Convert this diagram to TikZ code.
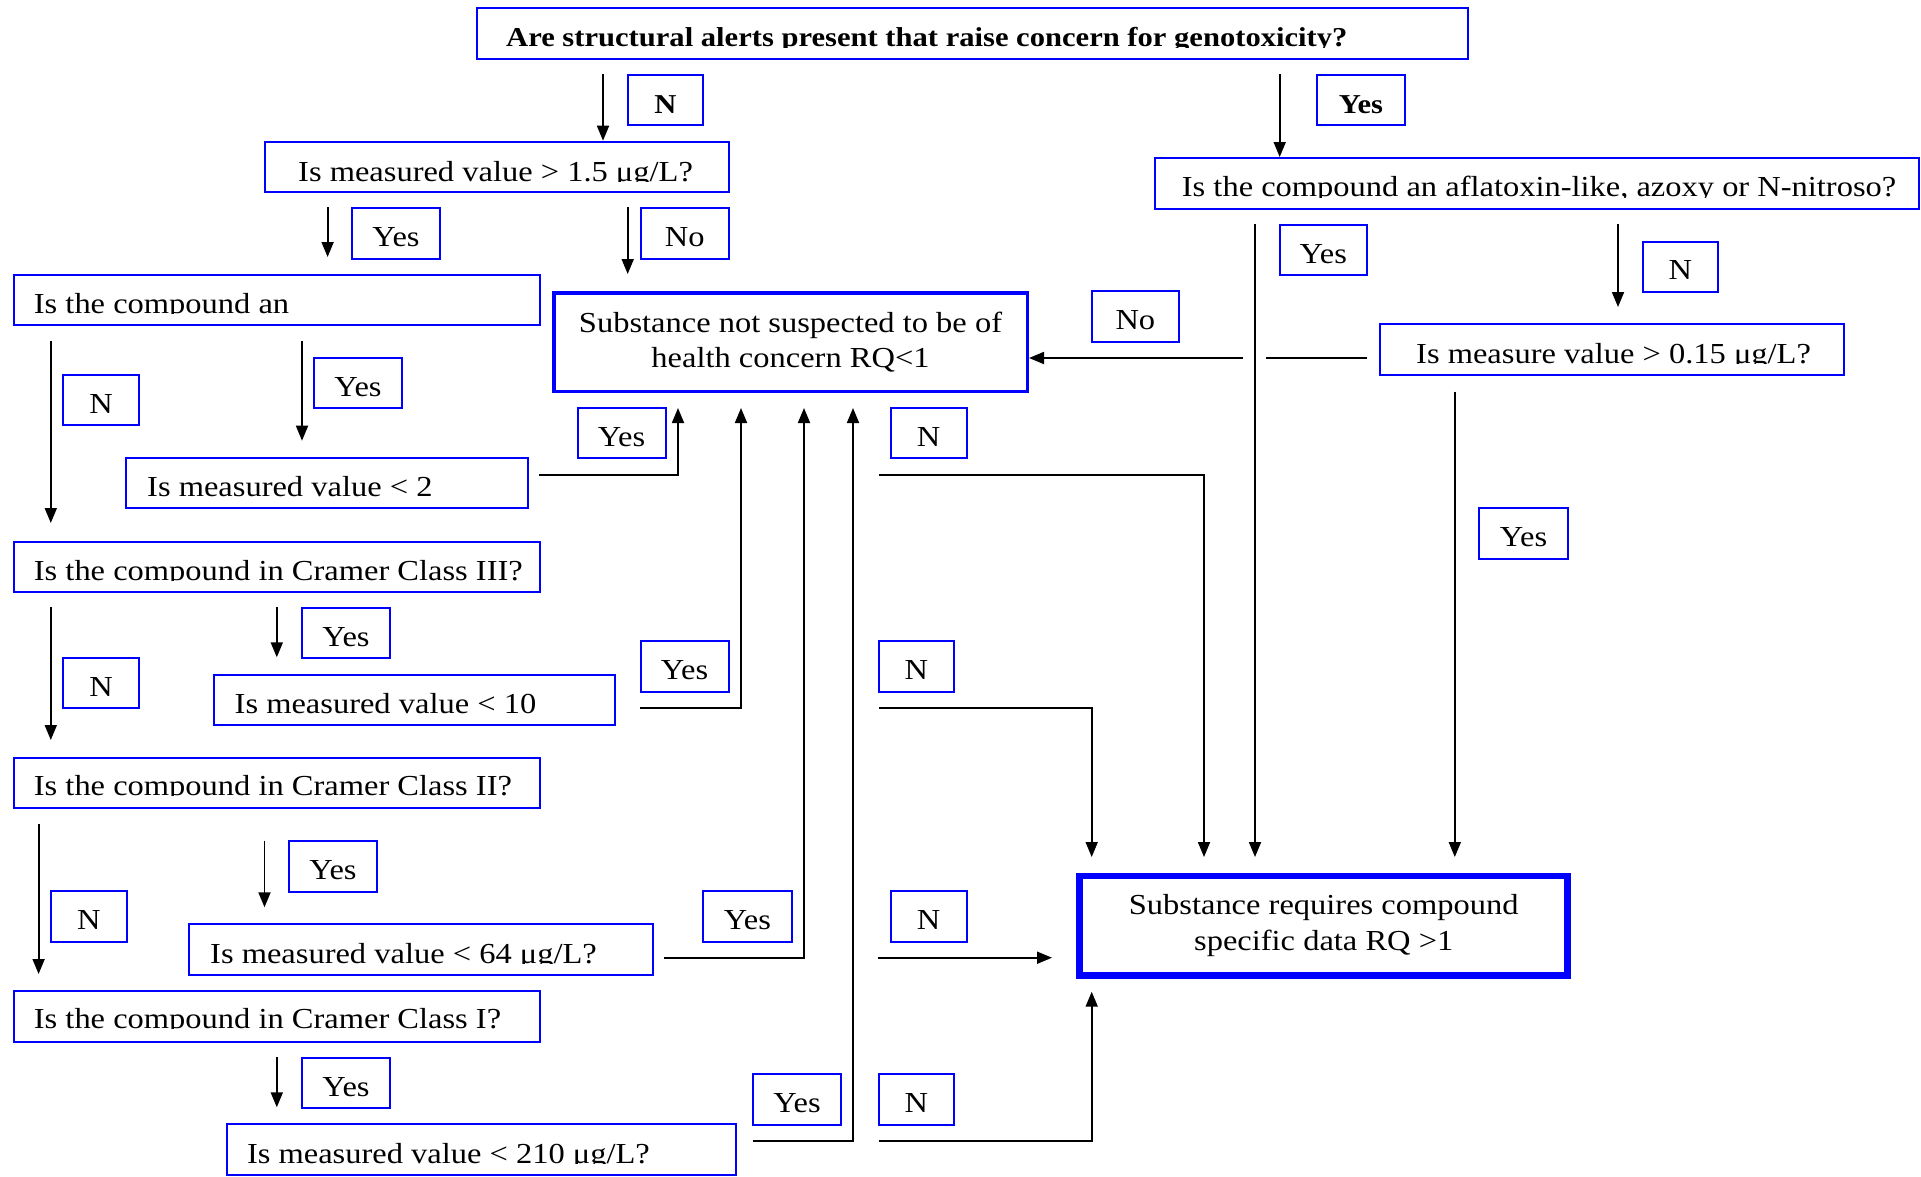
\documentclass[tikz,border=0pt]{standalone}
\usepackage{fontspec}
\setmainfont{Liberation Serif}[FakeStretch=1.12]
\usetikzlibrary{arrows.meta}

\definecolor{boxblue}{RGB}{0,0,255}
\newcommand\askfont{\fontsize{29}{35.5}\selectfont}
\newcommand\headfont{\fontsize{27.3}{33}\selectfont\bfseries}

% question box: name, x1, y1, x2, y2, text x, baseline y, text
% the text is cut at its baseline
\newcommand\askbox[8]{%
  \node[askframe, minimum width={#4-#2}, minimum height={#5-#3}] (#1) at ({(#2+#4)/2},{(#3+#5)/2}) {};
  \begin{scope}
    \clip (#2,#3) rectangle (#4,#7+0.5);
    \node[asktext] (#1-t) at (#6,#7) {#8};
  \end{scope}}

% small answer tag: name, x1, y1, x2, y2, text
\newcommand\tagbox[6]{%
  \node[tagframe, minimum width={#4-#2}, minimum height={#5-#3}] (#1) at ({(#2+#4)/2},{(#3+#5)/2}) {#6};}

\tikzset{
  askframe/.style={draw=boxblue, line width=2pt, inner sep=0pt},
  asktext/.style={anchor=base west, inner sep=0pt, font=\askfont},
  tagframe/.style={draw=boxblue, line width=2pt, inner sep=0pt,
    text height=26pt, text depth=0pt, font=\askfont},
  outcome/.style={draw=boxblue, align=center, inner sep=0pt, font=\askfont},
  conn/.style={line width=1.8pt, draw=black},
  arr/.style={conn, -{Triangle[length=15pt,width=12pt]}},
}

\begin{document}
\begin{tikzpicture}[x=1pt, y=-1pt]
\useasboundingbox (0,0) rectangle (1921,1176);

% --- top question
\node[askframe, minimum width=991, minimum height=51] (top) at (972.5,33.5) {};
\begin{scope}
  \clip (477,8) rectangle (1468,47.2);
  \node[anchor=base west, inner sep=0pt, font=\headfont] (top-t) at (506,46.7)
    {Are structural alerts present that raise concern for genotoxicity?};
\end{scope}

% --- left branch
\askbox{q1}{264.5}{141.7}{729}{192.3}{298}{181}{Is measured value > 1.5 μg/L?}
\askbox{q2}{13.5}{275}{540}{325}{33.7}{313.3}{Is the compound an}
\askbox{q3}{125.5}{457.7}{528}{508.3}{147}{496.7}{Is measured value < 2}
\askbox{q4}{13.5}{541.7}{540}{592.3}{33.7}{580}{Is the compound in Cramer Class III?}
\askbox{q5}{213.7}{675}{615.4}{725}{234.5}{713}{Is measured value < 10}
\askbox{q6}{13.5}{758.3}{540}{808.3}{33.7}{795}{Is the compound in Cramer Class II?}
\askbox{q7}{188.6}{924.3}{653.4}{975}{210}{963.3}{Is measured value < 64 μg/L?}
\askbox{q8}{13.5}{991}{540}{1041.7}{33.7}{1028.3}{Is the compound in Cramer Class I?}
\askbox{q9}{226.6}{1124.3}{736}{1175}{246.8}{1163.3}{Is measured value < 210 μg/L?}

% --- right branch
\askbox{r1}{1154.7}{158}{1919}{209}{1181.7}{196.7}{Is the compound an aflatoxin-like, azoxy or N-nitroso?}
\askbox{r2}{1380}{324}{1843.6}{375}{1416}{363}{Is measure value > 0.15 μg/L?}

% --- outcomes
\node[outcome, line width=3.5pt, minimum width=473.5, minimum height=98.5] (safe) at (790.5,342)
  {Substance not suspected to be of\\health concern RQ<1};
\node[outcome, line width=6.5pt, minimum width=488, minimum height=99.5] (concern) at (1323.7,925.5)
  {\rule{0pt}{0pt}\raisebox{-2pt}{\begin{tabular}{@{}c@{}}Substance requires compound\\[1pt]specific data RQ >1\end{tabular}}};

% --- answer tags
\tagbox{nTop}{628}{75}{703}{125}{\headfont N}
\tagbox{yTop}{1317}{75}{1405}{125}{\headfont Yes}
\tagbox{y1}{352}{208}{440}{259}{Yes}
\tagbox{no1}{640.5}{208}{729}{259}{No}
\tagbox{y2}{1279.7}{225}{1367}{275}{Yes}
\tagbox{n2}{1642.8}{241.7}{1718}{291.7}{N}
\tagbox{no2}{1091.7}{291}{1179}{341.7}{No}
\tagbox{n3}{63}{375}{139}{425}{N}
\tagbox{y3}{314}{358}{402}{408}{Yes}
\tagbox{y4}{577.5}{407.7}{665.6}{458.3}{Yes}
\tagbox{n4}{890.6}{408}{966.6}{458}{N}
\tagbox{y5}{1479}{507.7}{1568}{559}{Yes}
\tagbox{n5}{63}{657.7}{139}{708.3}{N}
\tagbox{y6}{302}{607.7}{390}{658.3}{Yes}
\tagbox{y7}{640.5}{641}{728.7}{691.7}{Yes}
\tagbox{n6}{878.7}{641}{954}{691.7}{N}
\tagbox{n7}{50.8}{891}{126.8}{941.7}{N}
\tagbox{y8}{289}{841}{377}{891.7}{Yes}
\tagbox{y9}{703}{891}{791.8}{941.7}{Yes}
\tagbox{n8}{890.6}{891}{966.6}{941.7}{N}
\tagbox{y10}{302}{1057.7}{390}{1108.3}{Yes}
\tagbox{y11}{753.2}{1074.3}{840.8}{1125}{Yes}
\tagbox{n9}{878.7}{1074}{954}{1125}{N}

% --- connectors from the top question
\draw[arr] (603,74) -- (q1.north -| 603,0);
\draw[arr] (1279.7,74) -- (r1.north -| 1279.7,0);

% --- right branch connectors
\draw[arr] (1255,224) -- (1255,857);
\draw[arr] (1618,224) -- (1618,307);
\draw[conn] (1367,358) -- (1266,358);
\draw[arr] (1243,358) -- (safe.east |- 0,358);
\draw[arr] (1454.8,391.7) -- (1454.8,857);

% --- left branch connectors
\draw[arr] (327.6,207) -- (327.6,257);
\draw[arr] (627.7,207) -- (627.7,274);
\draw[arr] (50.8,340.7) -- (50.8,523);
\draw[arr] (302,340.7) -- (302,440.7);
\draw[arr] (539,475) -| (678,408);
\draw[arr] (878.7,475) -| (1204,857);
\draw[arr] (50.8,607) -- (50.8,740);
\draw[arr] (276.8,607) -- (276.8,657.3);
\draw[arr] (640,708.3) -| (741,408);
\draw[arr] (878.7,708.3) -| (1091.7,857);
\draw[arr] (38.6,824) -- (38.6,974);
\draw[arr] (264.5,840.7) -- (264.5,907.3);
\draw[arr] (664.4,957.7) -| (804,408);
\draw[arr] (878,957.7) -- (1052,957.7);
\draw[arr] (276.8,1057) -- (276.8,1107.3);
\draw[arr] (753,1141) -| (853,408);
\draw[arr] (878.7,1141) -| (1091.7,991.7);
\end{tikzpicture}
\end{document}
